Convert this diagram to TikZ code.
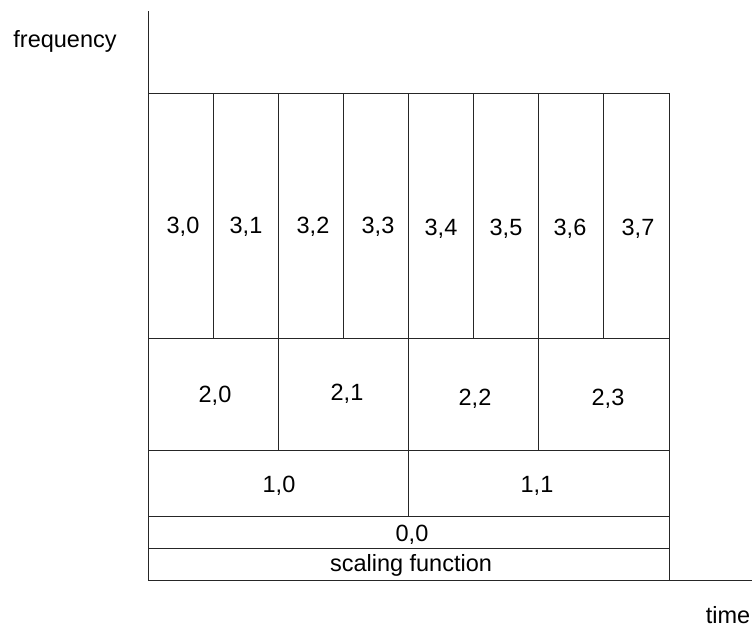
\documentclass[tikz,border=0pt]{standalone}
\usepackage{fontspec}
\setmainfont{Liberation Sans}
\begin{document}
\begin{tikzpicture}[x=1pt,y=-1pt,
    gridline/.style={line width=1pt,draw=black!85},
    lbl/.style={inner sep=0pt,anchor=base,font=\fontsize{23.5}{28}\selectfont}]
  \useasboundingbox (0,0) rectangle (756,630);
  % axes
  \coordinate (origin) at (148,580);
  \coordinate (ytop) at (148,11);
  \coordinate (xend) at (752,580);
  \draw[gridline] (ytop) -- (origin) -- (xend);
  % tiling of the time-frequency plane
  \draw[gridline] (148,93) rectangle (669,580);
  \foreach \y in {338,450,516,548} \draw[gridline] (148,\y) -- (669,\y);
  \foreach \i in {1,...,7} \draw[gridline] ({148+\i*521/8},93) -- ({148+\i*521/8},338);
  \foreach \i in {1,2,3} \draw[gridline] ({148+\i*521/4},338) -- ({148+\i*521/4},450);
  \draw[gridline] (408.5,450) -- (408.5,516);
  % level 3
  \node[lbl] (c30) at (183,233) {3,0};
  \node[lbl] (c31) at (246,233) {3,1};
  \node[lbl] (c32) at (313,233) {3,2};
  \node[lbl] (c33) at (378,233) {3,3};
  \node[lbl] (c34) at (441,235) {3,4};
  \node[lbl] (c35) at (506,235) {3,5};
  \node[lbl] (c36) at (570,235) {3,6};
  \node[lbl] (c37) at (638,235) {3,7};
  % level 2
  \node[lbl] (c20) at (215,402) {2,0};
  \node[lbl] (c21) at (347,400) {2,1};
  \node[lbl] (c22) at (475,405) {2,2};
  \node[lbl] (c23) at (608,405) {2,3};
  % level 1
  \node[lbl] (c10) at (279,492) {1,0};
  \node[lbl] (c11) at (537,492) {1,1};
  % level 0 and scaling
  \node[lbl] (c00) at (412,541.5) {0,0};
  \node[lbl] (scal) at (411,571.5) {scaling function};
  % axis labels
  \node[lbl] (freq) at (65,47.5) {frequency};
  \node[lbl] (time) at (728,623) {time};
\end{tikzpicture}
\end{document}
